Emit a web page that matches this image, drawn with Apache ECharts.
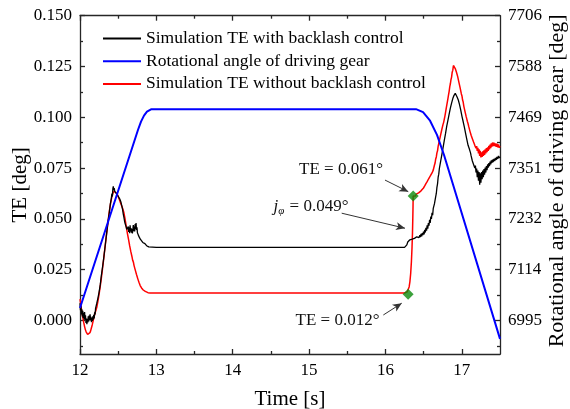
<!DOCTYPE html>
<html>
<head>
<meta charset="utf-8">
<script src="https://cdn.jsdelivr.net/npm/echarts@6/dist/echarts.min.js"></script>
<style>
html,body{margin:0;padding:0;background:#fff;}
#chart{width:570px;height:409px;}
</style>
</head>
<body>
<div id="chart"></div>
<script>
// ---------------- data ----------------
const seriesNames = [
  'Simulation TE with backlash control',
  'Rotational angle of driving gear',
  'Simulation TE without backlash control'
];
const xMajor = [12, 13, 14, 15, 16, 17];
const xMinor = [12.5, 13.5, 14.5, 15.5, 16.5];
const teMajor = [0, 0.025, 0.05, 0.075, 0.1, 0.125, 0.15];
const teMinor = [-0.0125, 0.0125, 0.0375, 0.0625, 0.0875, 0.1125, 0.1375];
const angleMajor = [6995, 7113.5, 7232, 7350.5, 7469, 7587.5, 7706];
const angleMinor = [6935.75, 7054.25, 7172.75, 7291.25, 7409.75, 7528.25, 7646.75];

// black: simulation TE with backlash control [time s, TE deg]
const blackData = [
  [12.000,0.0085],[12.006,0.0050],[12.012,0.0072],[12.018,0.0030],[12.024,0.0055],[12.030,0.0020],[12.036,0.0048],[12.042,0.0012],[12.048,0.0038],[12.054,0.0005],[12.060,0.0042],[12.066,0.0002],[12.072,0.0025],[12.078,-0.0012],[12.084,0.0010],[12.090,-0.0018],[12.096,0.0008],[12.102,-0.0010],[12.108,0.0020],[12.114,-0.0005],[12.120,0.0024],[12.126,0.0002],[12.132,0.0030],[12.138,0.0000],[12.144,0.0018],[12.150,-0.0008],[12.156,0.0012],[12.162,-0.0002],[12.168,0.0020],[12.174,0.0004],[12.180,0.0028],[12.186,0.0010],[12.192,0.0040],[12.198,0.0030],[12.204,0.0060],[12.210,0.0058],[12.220,0.0085],
  [12.235,0.0110],[12.250,0.0140],[12.265,0.0175],[12.280,0.0222],[12.295,0.0262],[12.310,0.0305],[12.325,0.0352],[12.340,0.0400],[12.355,0.0448],[12.370,0.0495],[12.385,0.0535],[12.398,0.0575],[12.410,0.0600],[12.418,0.0625],[12.424,0.0610],[12.430,0.0648],[12.436,0.0660],[12.442,0.0640],[12.448,0.0652],[12.455,0.0635],[12.462,0.0642],[12.470,0.0628],[12.478,0.0632],[12.486,0.0620],[12.494,0.0625],[12.502,0.0612],[12.510,0.0616],[12.518,0.0600],[12.526,0.0602],[12.534,0.0585],[12.542,0.0578],[12.550,0.0560],[12.558,0.0545],[12.566,0.0525],[12.574,0.0510],[12.582,0.0492],[12.590,0.0478],[12.598,0.0470],[12.606,0.0458],[12.612,0.0448],
  [12.620,0.0452],[12.626,0.0440],[12.632,0.0462],[12.638,0.0436],[12.644,0.0458],[12.650,0.0430],[12.656,0.0468],[12.662,0.0438],[12.668,0.0455],[12.674,0.0432],[12.680,0.0450],[12.686,0.0428],[12.692,0.0446],[12.698,0.0470],[12.704,0.0440],[12.710,0.0462],[12.716,0.0438],[12.722,0.0475],[12.728,0.0450],[12.734,0.0480],[12.740,0.0445],[12.746,0.0458],[12.752,0.0432],[12.758,0.0440],[12.764,0.0420],[12.770,0.0428],[12.776,0.0410],[12.782,0.0418],[12.790,0.0400],[12.798,0.0405],[12.806,0.0392],[12.814,0.0396],[12.822,0.0384],[12.830,0.0388],[12.840,0.0376],[12.850,0.0378],[12.860,0.0370],[12.872,0.0368],[12.885,0.0363],[12.900,0.0362],[12.920,0.0360],[13.0,0.0360],[14.0,0.0360],[15.0,0.0360],[16.0,0.0360],[16.250,0.0360],
  [16.265,0.0363],[16.280,0.0372],[16.292,0.0386],[16.305,0.0394],[16.320,0.0397],[16.335,0.0398],[16.350,0.0400],[16.365,0.0402],[16.380,0.0404],[16.392,0.0410],[16.400,0.0403],[16.410,0.0412],[16.420,0.0405],[16.430,0.0416],[16.440,0.0408],[16.450,0.0420],[16.458,0.0410],[16.466,0.0426],[16.474,0.0414],[16.482,0.0430],[16.490,0.0420],[16.498,0.0437],[16.506,0.0424],[16.514,0.0446],[16.522,0.0433],[16.530,0.0456],[16.538,0.0442],[16.546,0.0468],[16.554,0.0452],[16.562,0.0480],[16.570,0.0466],[16.578,0.0495],[16.586,0.0480],[16.594,0.0512],[16.602,0.0500],[16.610,0.0530],[16.618,0.0518],[16.626,0.0552],[16.634,0.0545],[16.642,0.0575],[16.650,0.0580],[16.658,0.0610],[16.666,0.0625],[16.674,0.0655],[16.682,0.0672],[16.690,0.0705],[16.698,0.0720],[16.706,0.0748],[16.714,0.0752],[16.722,0.0782],[16.730,0.0790],[16.738,0.0815],[16.746,0.0822],[16.754,0.0850],[16.762,0.0855],[16.770,0.0885],[16.778,0.0890],[16.786,0.0918],[16.794,0.0925],[16.802,0.0955],[16.810,0.0960],[16.818,0.0985],[16.826,0.0992],[16.834,0.1015],[16.842,0.1020],[16.850,0.1045],[16.858,0.1048],[16.866,0.1070],[16.874,0.1072],[16.882,0.1092],[16.890,0.1090],[16.898,0.1108],[16.906,0.1102],[16.914,0.1118],[16.922,0.1110],[16.930,0.1115],[16.938,0.1100],[16.946,0.1102],[16.954,0.1085],[16.962,0.1082],[16.970,0.1062],[16.978,0.1060],[16.986,0.1035],[16.994,0.1032],[17.002,0.1005],[17.010,0.1002],[17.018,0.0978],[17.026,0.0975],[17.034,0.0950],[17.042,0.0945],[17.050,0.0920],[17.058,0.0915],[17.066,0.0890],[17.074,0.0885],[17.082,0.0862],[17.090,0.0855],[17.098,0.0845],[17.106,0.0835],[17.114,0.0825],[17.122,0.0810],[17.130,0.0805],[17.138,0.0785],[17.146,0.0790],[17.154,0.0768],[17.162,0.0775],[17.170,0.0750],[17.178,0.0762],[17.186,0.0728],[17.194,0.0748],[17.202,0.0705],[17.210,0.0738],[17.218,0.0688],[17.226,0.0730],[17.234,0.0668],[17.242,0.0725],[17.250,0.0678],[17.258,0.0730],[17.266,0.0695],[17.274,0.0738],[17.282,0.0705],[17.290,0.0745],[17.298,0.0718],[17.306,0.0752],[17.314,0.0728],[17.322,0.0760],[17.330,0.0740],[17.338,0.0768],[17.346,0.0752],[17.354,0.0775],[17.362,0.0760],[17.370,0.0782],[17.378,0.0768],[17.386,0.0788],[17.394,0.0775],[17.402,0.0792],[17.410,0.0780],[17.420,0.0795],[17.430,0.0785],[17.440,0.0800],[17.450,0.0790],[17.460,0.0805],[17.470,0.0795],[17.480,0.0810],[17.490,0.0800],[17.500,0.0805]
];

// blue: rotational angle of driving gear [time s, angle deg]
const blueData = [
  [12.000,7024],[12.760,7440],[12.799,7459],[12.838,7473],[12.877,7482],[12.936,7488],
  [16.400,7488],[16.492,7481],[16.584,7461],[16.675,7428],[16.767,7381],[17.500,6952]
];

// red: simulation TE without backlash control [time s, TE deg]
const redData = [
  [12.000,0.0105],[12.010,0.0080],[12.020,0.0052],[12.030,0.0030],[12.040,0.0008],[12.050,-0.0012],[12.060,-0.0030],[12.070,-0.0045],[12.080,-0.0056],[12.090,-0.0064],[12.100,-0.0069],[12.110,-0.0071],[12.120,-0.0068],[12.130,-0.0060],[12.140,-0.0050],[12.150,-0.0036],[12.160,-0.0022],[12.170,-0.0006],[12.180,0.0010],[12.190,0.0026],[12.200,0.0040],[12.210,0.0052],[12.220,0.0065],[12.235,0.0095],[12.250,0.0130],[12.265,0.0168],[12.280,0.0210],[12.295,0.0255],[12.310,0.0302],[12.325,0.0352],[12.340,0.0400],[12.355,0.0448],[12.370,0.0495],[12.385,0.0540],[12.400,0.0575],[12.415,0.0605],[12.430,0.0625],[12.445,0.0636],[12.458,0.0640],[12.470,0.0635],[12.485,0.0625],[12.500,0.0610],[12.515,0.0595],[12.530,0.0580],[12.545,0.0565],[12.560,0.0550],[12.575,0.0530],[12.590,0.0500],[12.605,0.0465],[12.620,0.0430],[12.635,0.0400],[12.650,0.0368],[12.665,0.0340],[12.680,0.0315],[12.690,0.0296],[12.700,0.0286],[12.708,0.0270],[12.716,0.0262],[12.724,0.0248],[12.732,0.0240],[12.740,0.0226],[12.748,0.0220],[12.756,0.0206],[12.764,0.0200],[12.772,0.0188],[12.780,0.0182],[12.788,0.0172],[12.796,0.0168],[12.806,0.0160],[12.816,0.0156],[12.828,0.0150],[12.840,0.0147],[12.855,0.0143],[12.870,0.0140],[12.890,0.0137],[12.920,0.0135],[13.0,0.0135],[14.0,0.0135],[15.0,0.0135],[16.0,0.0135],[16.250,0.0135],
  [16.270,0.0137],[16.285,0.0141],[16.297,0.0148],[16.310,0.0165],[16.320,0.0190],[16.330,0.0230],[16.340,0.0290],[16.348,0.0360],[16.354,0.0430],[16.358,0.0500],[16.361,0.0560],[16.363,0.0613],
  [16.370,0.0617],[16.378,0.0611],[16.386,0.0620],[16.394,0.0612],[16.402,0.0622],[16.410,0.0614],[16.418,0.0625],[16.426,0.0617],[16.434,0.0628],[16.442,0.0619],[16.450,0.0632],[16.458,0.0624],[16.466,0.0638],[16.474,0.0630],[16.482,0.0645],[16.490,0.0638],[16.498,0.0652],[16.506,0.0645],[16.514,0.0662],[16.522,0.0655],[16.530,0.0673],[16.538,0.0668],[16.546,0.0683],[16.554,0.0678],[16.562,0.0695],[16.570,0.0690],[16.578,0.0705],[16.586,0.0702],[16.594,0.0716],[16.602,0.0712],[16.610,0.0726],[16.618,0.0725],[16.626,0.0740],[16.634,0.0748],[16.642,0.0765],[16.650,0.0775],[16.658,0.0795],[16.666,0.0805],[16.674,0.0825],[16.682,0.0835],[16.690,0.0857],[16.698,0.0865],[16.706,0.0885],[16.714,0.0893],[16.722,0.0912],[16.730,0.0920],[16.738,0.0940],[16.746,0.0948],[16.754,0.0965],[16.762,0.0975],[16.770,0.0990],[16.778,0.1005],[16.786,0.1022],[16.794,0.1040],[16.802,0.1058],[16.810,0.1075],[16.818,0.1092],[16.826,0.1110],[16.834,0.1128],[16.842,0.1150],[16.850,0.1165],[16.858,0.1185],[16.866,0.1198],[16.874,0.1222],[16.882,0.1232],[16.890,0.1255],[16.898,0.1250],[16.906,0.1258],[16.914,0.1240],[16.922,0.1242],[16.930,0.1222],[16.938,0.1220],[16.946,0.1200],[16.954,0.1195],[16.962,0.1172],[16.970,0.1168],[16.978,0.1145],[16.986,0.1138],[16.994,0.1115],[17.002,0.1105],[17.010,0.1085],[17.018,0.1075],[17.026,0.1055],[17.034,0.1048],[17.042,0.1028],[17.050,0.1020],[17.058,0.1002],[17.066,0.0995],[17.074,0.0978],[17.082,0.0968],[17.090,0.0955],[17.098,0.0948],[17.106,0.0932],[17.114,0.0928],[17.122,0.0912],[17.130,0.0910],[17.138,0.0895],[17.146,0.0895],[17.154,0.0878],[17.162,0.0882],[17.170,0.0862],[17.178,0.0870],[17.186,0.0848],[17.194,0.0858],[17.202,0.0835],[17.210,0.0850],[17.218,0.0822],[17.226,0.0842],[17.234,0.0810],[17.242,0.0835],[17.250,0.0802],[17.258,0.0828],[17.266,0.0805],[17.274,0.0832],[17.282,0.0810],[17.290,0.0838],[17.298,0.0815],[17.306,0.0842],[17.314,0.0822],[17.322,0.0848],[17.330,0.0828],[17.338,0.0852],[17.346,0.0835],[17.354,0.0860],[17.362,0.0842],[17.370,0.0866],[17.378,0.0848],[17.386,0.0872],[17.394,0.0855],[17.402,0.0876],[17.410,0.0858],[17.420,0.0875],[17.430,0.0858],[17.440,0.0872],[17.450,0.0855],[17.460,0.0870],[17.470,0.0852],[17.480,0.0866],[17.490,0.0850],[17.500,0.0858]
];

// green markers [time s, TE deg]
const markerData = [[16.297, 0.0129], [16.363, 0.0613]];
// annotation texts: [time, TE, text]
const noteTE061 = [15.418, 0.0743, 'TE = 0.061°'];
const noteJ = [15.025, 0.0559];
const noteTE012 = [15.372, 0.0, 'TE = 0.012°'];
// arrows: [[t0, te0], [t1, te1]]
const arrows = [
  [[15.994, 0.0691], [16.299, 0.0634]],
  [[15.427, 0.0528], [16.256, 0.0454]],
  [[15.972, 0.0027], [16.213, 0.0085]]
];

// ---------------- chart ----------------
const FONT = 'Liberation Serif';
const AX = '#262626';
const teMin = -0.0165, teMax = 0.15;
const angMin = angleMajor[0] - (0 - teMin) / 0.025 * 118.5;
const angMax = angleMajor[angleMajor.length - 1];

function xAxisCfg(pos, ticks, len, showLine, showLabel, extra) {
  return Object.assign({
    type: 'value', position: pos, min: 12, max: 17.5,
    axisLine: { show: showLine, onZero: false, lineStyle: { color: AX, width: 1.3 } },
    axisTick: { show: true, inside: true, length: len, customValues: ticks, lineStyle: { color: AX, width: 1.3 } },
    axisLabel: showLabel ? { show: true, customValues: ticks, margin: 8, color: '#000', fontFamily: FONT, fontSize: 17 } : { show: false },
    splitLine: { show: false }
  }, extra || {});
}
function yAxisCfg(pos, mn, mx, ticks, len, showLine, showLabel, fmt, extra) {
  return Object.assign({
    type: 'value', position: pos, min: mn, max: mx,
    axisLine: { show: showLine, onZero: false, lineStyle: { color: AX, width: 1.3 } },
    axisTick: { show: true, inside: true, length: len, customValues: ticks, lineStyle: { color: AX, width: 1.3 } },
    axisLabel: showLabel ? { show: true, customValues: ticks, margin: 8, color: '#000', fontFamily: FONT, fontSize: 17, formatter: fmt } : { show: false },
    splitLine: { show: false }
  }, extra || {});
}

const chart = echarts.init(document.getElementById('chart'), null, { renderer: 'canvas' });
const option = {
  animation: false,
  backgroundColor: '#fff',
  grid: { left: 80, right: 70, top: 15.7, bottom: 55, containLabel: false, outerBoundsMode: 'none' },
  legend: {
    data: seriesNames,
    orient: 'vertical', left: 102, top: 29.5, padding: 0,
    itemWidth: 38, itemHeight: 17, itemGap: 4.7,
    itemStyle: { opacity: 0 },
    textStyle: { fontFamily: FONT, fontSize: 17.5, color: '#000' },
    selectedMode: false
  },
  xAxis: [
    xAxisCfg('bottom', xMajor, 5, true, true, {
      name: 'Time [s]', nameLocation: 'middle', nameGap: 35, nameMoveOverlap: false,
      nameTextStyle: { fontFamily: FONT, fontSize: 21, color: '#000' }
    }),
    xAxisCfg('bottom', xMinor, 3, false, false),
    xAxisCfg('top', xMajor, 5, true, false),
    xAxisCfg('top', xMinor, 3, false, false)
  ],
  yAxis: [
    yAxisCfg('left', teMin, teMax, teMajor, 5, true, true, v => v.toFixed(3), {
      name: 'TE [deg]', nameLocation: 'middle', nameGap: 49, nameMoveOverlap: false,
      nameTextStyle: { fontFamily: FONT, fontSize: 21, color: '#000' }
    }),
    yAxisCfg('left', teMin, teMax, teMinor, 3, false, false),
    yAxisCfg('right', angMin, angMax, angleMajor, 5, true, true, v => String(Math.round(v)), {
      name: 'Rotational angle of driving gear [deg]', nameLocation: 'middle', nameGap: 46, nameMoveOverlap: false,
      nameTextStyle: { fontFamily: FONT, fontSize: 22, color: '#000', padding: [0, 0, 0, 8] }
    }),
    yAxisCfg('right', angMin, angMax, angleMinor, 3, false, false)
  ],
  series: [
    {
      name: seriesNames[0], type: 'line', data: blackData, xAxisIndex: 0, yAxisIndex: 0,
      symbol: 'none', showSymbol: false, z: 4,
      lineStyle: { color: '#000', width: 1.3 }, itemStyle: { color: '#000' }
    },
    {
      name: seriesNames[1], type: 'line', data: blueData, xAxisIndex: 0, yAxisIndex: 2,
      symbol: 'none', showSymbol: false, z: 5,
      lineStyle: { color: '#0000ff', width: 2 }, itemStyle: { color: '#0000ff' }
    },
    {
      name: seriesNames[2], type: 'line', data: redData, xAxisIndex: 0, yAxisIndex: 0,
      symbol: 'none', showSymbol: false, z: 3,
      lineStyle: { color: '#ff0000', width: 1.5 }, itemStyle: { color: '#ff0000' }
    },
    {
      name: 'markers', type: 'scatter', data: markerData, xAxisIndex: 0, yAxisIndex: 0,
      symbol: 'diamond', symbolSize: 11, z: 6, silent: true,
      itemStyle: { color: '#0b8a0b' },
      markLine: {
        silent: true, animation: false,
        symbol: ['none', 'arrow'], symbolSize: [6, 9],
        lineStyle: { color: '#333', width: 1, type: 'solid' },
        label: { show: false },
        data: arrows.map(a => [{ coord: a[0] }, { coord: a[1] }])
      },
      markPoint: {
        silent: true, animation: false,
        symbol: 'circle', symbolSize: 0,
        label: { show: true, position: 'inside', color: '#111', fontFamily: FONT, fontSize: 17 },
        data: [
          { coord: [noteTE061[0], noteTE061[1]], value: 0, label: { formatter: noteTE061[2] } },
          { coord: [noteTE012[0], noteTE012[1]], value: 0, label: { formatter: noteTE012[2] } },
          { coord: [noteJ[0], noteJ[1]], value: 0, label: {
              formatter: '{j|j}{p|φ}{t| = 0.049°}',
              rich: {
                j: { fontFamily: FONT, fontSize: 17, fontStyle: 'italic', color: '#111' },
                p: { fontFamily: FONT, fontSize: 11, fontStyle: 'italic', color: '#111', padding: [9, 1, 0, 0] },
                t: { fontFamily: FONT, fontSize: 17, color: '#111' }
              }
            } }
        ]
      }
    }
  ]
};
chart.setOption(option);
</script>
</body>
</html>
